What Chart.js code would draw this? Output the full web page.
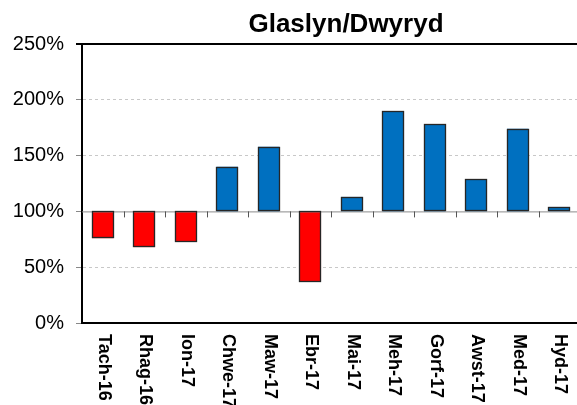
<!DOCTYPE html>
<html>
<head>
<meta charset="utf-8">
<script src="https://cdn.jsdelivr.net/npm/chart.js@4/dist/chart.umd.min.js"></script>
<style>
  html, body { margin:0; padding:0; background:#fff; overflow:hidden; }
  #wrap { width:580px; height:405px; }
</style>
</head>
<body>
<div id="wrap"><canvas id="c" width="580" height="405"></canvas></div>
<script>
const months = ['Tach-16','Rhag-16','Ion-17','Chwe-17','Maw-17','Ebr-17','Mai-17','Meh-17','Gorf-17','Awst-17','Med-17','Hyd-17'];
const values = [76, 68, 73, 140, 158, 37, 113, 190, 178, 129, 174, 104];
const baseline = 100;
const yTicks = [0, 50, 100, 150, 200, 250];
const title = 'Glaslyn/Dwyryd';

const RED = '#ff0000', BLUE = '#0070c0';

const decor = {
  id:'decor',
  afterDatasetsDraw(chart){
    const {ctx, chartArea:a, scales:{x, y}} = chart;
    const y100 = y.getPixelForValue(baseline);
    ctx.save();
    // axis line at 100%
    ctx.strokeStyle = '#8a8a8a'; ctx.lineWidth = 1;
    ctx.beginPath(); ctx.moveTo(a.left, y100 + .5); ctx.lineTo(a.right, y100 + .5); ctx.stroke();
    // category boundary ticks
    ctx.strokeStyle = '#555';
    for(let i = 1; i < months.length; i++){
      const px = Math.round((x.getPixelForValue(i-1) + x.getPixelForValue(i)) / 2) + .5;
      ctx.beginPath(); ctx.moveTo(px, y100); ctx.lineTo(px, y100 + 6); ctx.stroke();
    }
    // bar outlines
    const meta = chart.getDatasetMeta(0);
    ctx.strokeStyle = '#262626'; ctx.lineWidth = 1.3;
    meta.data.forEach(b => {
      const {x:bx, y:by, base, width} = b.getProps(['x','y','base','width'], true);
      const l = Math.round(bx - width/2) + .5, r = Math.round(bx + width/2) - .5;
      const t = Math.round(Math.min(by, base)) + .5, btm = Math.round(Math.max(by, base)) - .5;
      ctx.strokeRect(l, t, r - l, btm - t);
    });
    // top frame
    ctx.strokeStyle = '#000'; ctx.lineWidth = 2;
    ctx.beginPath(); ctx.moveTo(a.left - 6, a.top); ctx.lineTo(a.right, a.top); ctx.stroke();
    ctx.restore();
  },
  afterDraw(chart){
    const {ctx, chartArea:a, scales:{x}} = chart;
    ctx.save();
    ctx.fillStyle = '#000';
    ctx.font = 'bold 18px "Liberation Sans", Arial, sans-serif';
    ctx.textAlign = 'left'; ctx.textBaseline = 'middle';
    months.forEach((m, i) => {
      ctx.save();
      ctx.translate(x.getPixelForValue(i) + 1, a.bottom + 11);
      ctx.rotate(Math.PI / 2);
      ctx.fillText(m, 0, 0);
      ctx.restore();
    });
    ctx.font = 'bold 26px "Liberation Sans", Arial, sans-serif';
    ctx.textAlign = 'center'; ctx.textBaseline = 'alphabetic';
    ctx.fillText(title, 346, 32);
    ctx.restore();
  }
};

new Chart(document.getElementById('c'), {
  type:'bar',
  data:{
    labels: months,
    datasets:[{
      data: values.map(v => [baseline, v]),
      backgroundColor: values.map(v => v < baseline ? RED : BLUE),
      borderWidth:0,
      categoryPercentage:1, barPercentage:0.52
    }]
  },
  options:{
    responsive:false, animation:false, devicePixelRatio:1,
    layout:{ padding:{ top:44, left:0, right:0, bottom:0 } },
    plugins:{ legend:{display:false}, tooltip:{enabled:false}, title:{display:false} },
    scales:{
      x:{
        ticks:{ display:false },
        grid:{ display:false },
        border:{ display:true, color:'#000', width:2 },
        afterFit(s){ s.height = 82; }
      },
      y:{
        min:0, max:250,
        afterBuildTicks(s){ s.ticks = yTicks.map(v => ({value:v})); },
        ticks:{ callback: v => v + '%', color:'#000', padding:12,
                font:{ family:'"Liberation Sans", Arial, sans-serif', size:20 } },
        grid:{ color: c => (c.tick && (c.tick.value === 0 || c.tick.value === 250 || c.tick.value === 100)) ? 'rgba(0,0,0,0)' : '#c8c8c8',
               tickColor:'#888', tickLength:6, drawTicks:true },
        border:{ display:true, color:'#000', width:2, dash:[3,3] },
        afterFit(s){ s.width = 82; }
      }
    }
  },
  plugins:[decor]
});
</script>
</body>
</html>
